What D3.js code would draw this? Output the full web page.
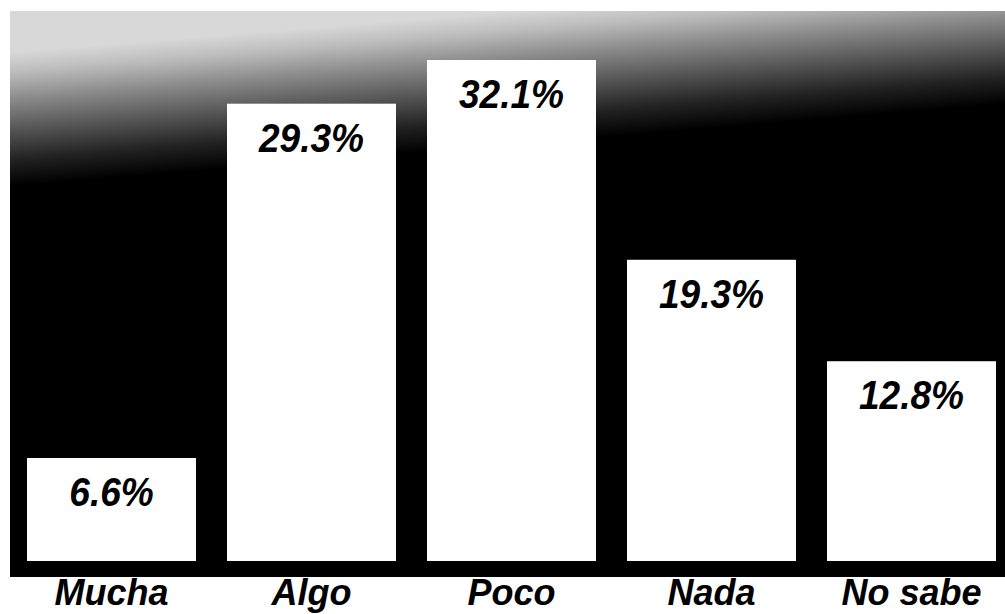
<!DOCTYPE html>
<html>
<head>
<meta charset="utf-8">
<script src="https://cdn.jsdelivr.net/npm/d3@7"></script>
<style>
  html, body { margin: 0; padding: 0; background: #fff; }
  svg { display: block; }
  text { font-family: "Liberation Sans", Arial, sans-serif; font-weight: bold; font-style: italic; }
</style>
</head>
<body>
<svg id="chart" width="1005" height="614"></svg>
<script>
const categories = ["Mucha", "Algo", "Poco", "Nada", "No sabe"];
const values = [6.6, 29.3, 32.1, 19.3, 12.8];
const valueLabels = ["6.6%", "29.3%", "32.1%", "19.3%", "12.8%"];

const svg = d3.select("#chart");
const W = 1005, H = 614;

// panel background with a top gray-to-black fade
const defs = svg.append("defs");
const grad = defs.append("linearGradient")
  .attr("id", "fade")
  .attr("gradientUnits", "userSpaceOnUse")
  .attr("x1", 500).attr("y1", 12)
  .attr("x2", 511).attr("y2", 145);
[[0, "#d8d8d8"], [0.15, "#bcbcbc"], [0.35, "#8a8a8a"], [0.6, "#505050"], [0.8, "#222"], [1, "#000"]]
  .forEach(([o, c]) => grad.append("stop").attr("offset", o).attr("stop-color", c));

svg.append("rect")
  .attr("x", 10).attr("y", 11)
  .attr("width", W - 10).attr("height", 577 - 11)
  .attr("fill", "url(#fade)");

const x = d3.scaleBand()
  .domain(categories)
  .range([12, 1011])
  .paddingInner(0.155)
  .paddingOuter(0.075);

const y = d3.scaleLinear()
  .domain([0, 32.1])
  .range([561, 60]);

const g = svg.append("g");

g.selectAll("rect.bar")
  .data(categories)
  .join("rect")
  .attr("class", "bar")
  .attr("x", d => x(d))
  .attr("y", (d, i) => y(values[i]))
  .attr("width", x.bandwidth())
  .attr("height", (d, i) => y(0) - y(values[i]))
  .attr("fill", "#fff");

g.selectAll("text.val")
  .data(categories)
  .join("text")
  .attr("class", "val")
  .attr("text-anchor", "middle")
  .attr("transform", (d, i) => `translate(${x(d) + x.bandwidth() / 2},${y(values[i]) + 48}) scale(0.95,1.05)`)
  .attr("font-size", 39)
  .attr("fill", "#000")
  .text((d, i) => valueLabels[i]);

g.selectAll("text.cat")
  .data(categories)
  .join("text")
  .attr("class", "cat")
  .attr("text-anchor", "middle")
  .attr("transform", d => `translate(${x(d) + x.bandwidth() / 2},605)`)
  .attr("font-size", 36)
  .attr("fill", "#000")
  .text(d => d);
</script>
</body>
</html>
